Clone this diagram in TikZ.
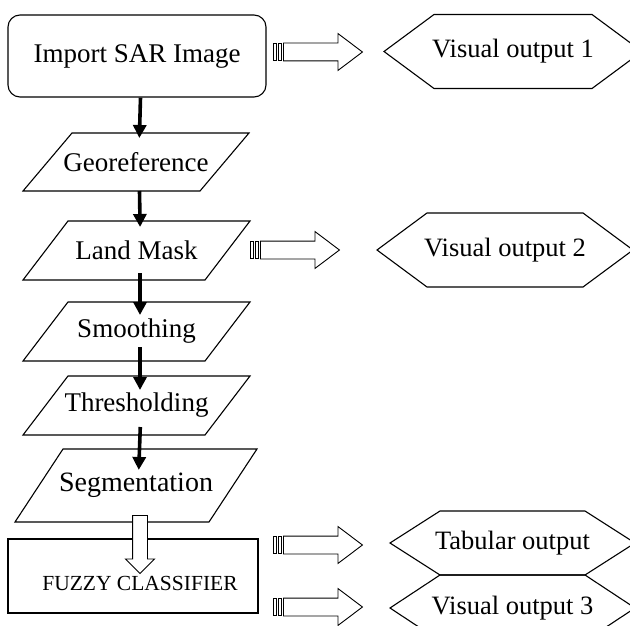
\documentclass[tikz,border=0pt]{standalone}
\usepackage{fontspec}
\setmainfont{Liberation Serif}
\usetikzlibrary{shapes.arrows,arrows.meta,positioning}

\tikzstyle{start} = [rectangle, draw, line width=1.1pt, rounded corners=12pt,
  minimum width=258pt, minimum height=82pt, font=\fontsize{27}{30}\selectfont]
\tikzstyle{io} = [rectangle, outer sep=0pt, minimum width=227pt, minimum height=59pt,
  font=\fontsize{27}{30}\selectfont]
\tikzstyle{classifier} = [rectangle, draw, line width=1.1pt, minimum width=250pt,
  minimum height=74pt]
\tikzstyle{display} = [rectangle, outer sep=0pt, font=\fontsize{26.5}{30}\selectfont]
\tikzstyle{outline} = [draw, line width=1.1pt, line join=miter]
\tikzstyle{line} = [draw, line width=3.6pt, -{Triangle[length=13pt,width=13pt]}]
\tikzstyle{hollow} = [single arrow, draw, fill=white, line width=0.9pt, inner xsep=0pt,
  inner ysep=8.5pt, single arrow head extend=9.5pt, single arrow tip angle=74,
  minimum height=79pt, anchor=tail]
\tikzstyle{stripe} = [rectangle, draw, line width=0.9pt, minimum width=3pt,
  minimum height=17pt, inner sep=0pt]

\begin{document}
\begin{tikzpicture}[x=1pt, y=-1pt]
  \useasboundingbox (0,0) rectangle (630,626);

  % main chain
  \node [start] (import) at (137,56) {Import SAR Image};
  \node [io, minimum width=226pt, minimum height=58pt] (geo) at (136,162) {Georeference};
  \node [io] (land) at (136.5,250.5) {Land Mask};
  \node [io] (smooth) at (136.5,331.5) {Smoothing};
  \node [io] (thresh) at (136.5,405.5) {Thresholding};
  \node [io, minimum width=242pt, minimum height=73pt, font=\fontsize{28}{30}\selectfont]
    (seg) at (136,485.5) {Segmentation};
  \node [classifier, label={[font=\fontsize{21.5}{24}\selectfont, xshift=7pt, yshift=-7pt]center:FUZZY CLASSIFIER}]
    (fuzzy) at (133,576) {};

  % parallelogram borders
  \foreach \n/\s in {geo/49, land/45, smooth/45, thresh/45, seg/48}
    \path [outline] ([xshift=\s pt]\n.north west) -- (\n.north east)
      -- ([xshift=-\s pt]\n.south east) -- (\n.south west) -- cycle;

  % outputs
  \node [display, minimum width=258pt, minimum height=74pt] (vis1) at (513,51.5) {Visual output 1};
  \node [display, minimum width=256pt, minimum height=74pt] (vis2) at (505,250) {Visual output 2};
  \node [display, minimum width=245pt, minimum height=64pt] (tab) at (512.5,543) {Tabular output};
  \node [display, minimum width=245pt, minimum height=66pt] (vis3) at (512.5,608) {Visual output 3};

  % hexagon borders
  \foreach \n in {vis1, vis2, tab, vis3}
    \path [outline] (\n.west) -- ([xshift=50pt]\n.north west) -- ([xshift=-50pt]\n.north east)
      -- (\n.east) -- ([xshift=-50pt]\n.south east) -- ([xshift=50pt]\n.south west) -- cycle;

  \path [line, shorten >=-5pt] ([xshift=3.5pt]import.south) -- ([xshift=3.5pt]geo.north);
  \path [line, shorten >=-6pt] ([xshift=3.5pt]geo.south) -- ([xshift=3.5pt]land.north);
  \path [line, shorten <=-7pt, shorten >=-13pt] ([xshift=3.5pt]land.south) -- ([xshift=3.5pt]smooth.north);
  \path [line, shorten <=-14pt, shorten >=-14pt] ([xshift=3.5pt]smooth.south) -- ([xshift=3.5pt]thresh.north);
  \path [line, shorten <=-8pt, shorten >=-21pt] ([xshift=3.5pt]thresh.south) -- ([xshift=3.5pt]seg.north);

  % hollow arrows
  \node [hollow, inner ysep=7pt, single arrow head extend=7pt, single arrow tip angle=90,
    minimum height=58pt, rotate=-90] (segout) at (140,515) {};

  \node [hollow] (out1) at (283,52) {};
  \node [stripe, left=1pt of out1.tail] (out1b) {};
  \node [stripe, left=1.5pt of out1b] (out1a) {};

  \node [hollow] (out2) at (260,250) {};
  \node [stripe, left=1pt of out2.tail] (out2b) {};
  \node [stripe, left=1.5pt of out2b] (out2a) {};

  \node [hollow] (out3) at (283,545) {};
  \node [stripe, left=1pt of out3.tail] (out3b) {};
  \node [stripe, left=1.5pt of out3b] (out3a) {};

  \node [hollow] (out4) at (283,607) {};
  \node [stripe, left=1pt of out4.tail] (out4b) {};
  \node [stripe, left=1.5pt of out4b] (out4a) {};

\end{tikzpicture}
\end{document}
